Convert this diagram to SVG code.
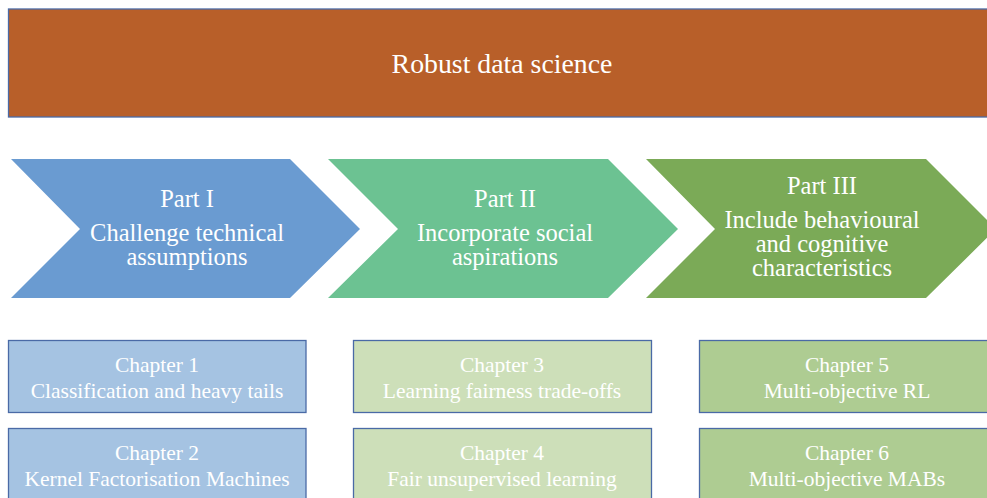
<svg xmlns="http://www.w3.org/2000/svg" width="987" height="498" viewBox="0 0 987 498">
  <style>
    text { font-family: "Liberation Serif", "Times New Roman", serif; fill: #ffffff; text-anchor: middle; }
    .title { font-size: 27.8px; }
    .part { font-size: 24.5px; }
    .chap { font-size: 21.5px; }
    .box { stroke: #4a6aa6; stroke-width: 1.3; }
    .blue { fill: #6a9bd1; }
    .teal { fill: #6cc292; }
    .olive { fill: #7baa57; }
    .lblue { fill: #a5c3e2; }
    .lgreen { fill: #cddfb9; }
    .mgreen { fill: #aecc92; }
  </style>

  <!-- header band -->
  <g id="header">
    <rect class="box" x="8.5" y="9" width="990" height="108" fill="#b85f29" stroke-width="2"/>
    <text class="title" x="502" y="73">Robust data science</text>
  </g>

  <!-- part chevrons -->
  <g id="part1">
    <polygon class="blue" points="11,159 290,159 360,229 290,298 11,298 80,229"/>
    <text class="part" x="187" y="207">Part I</text>
    <text class="part" x="187" y="241">Challenge technical</text>
    <text class="part" x="187" y="265">assumptions</text>
  </g>
  <g id="part2">
    <polygon class="teal" points="328,159 608,159 678,229 608,298 328,298 398,229"/>
    <text class="part" x="505" y="207">Part II</text>
    <text class="part" x="505" y="241">Incorporate social</text>
    <text class="part" x="505" y="265">aspirations</text>
  </g>
  <g id="part3">
    <polygon class="olive" points="646,159 926,159 996,229 926,298 646,298 715,229"/>
    <text class="part" x="822" y="194">Part III</text>
    <text class="part" x="822" y="228">Include behavioural</text>
    <text class="part" x="822" y="252">and cognitive</text>
    <text class="part" x="822" y="276">characteristics</text>
  </g>

  <!-- chapter boxes -->
  <g id="chapter1">
    <rect class="box lblue" x="8.5" y="340.5" width="297.5" height="72"/>
    <text class="chap" x="157" y="372">Chapter 1</text>
    <text class="chap" x="157" y="398">Classification and heavy tails</text>
  </g>
  <g id="chapter2">
    <rect class="box lblue" x="8.5" y="428.5" width="297.5" height="80"/>
    <text class="chap" x="157" y="460">Chapter 2</text>
    <text class="chap" x="157" y="486">Kernel Factorisation Machines</text>
  </g>
  <g id="chapter3">
    <rect class="box lgreen" x="353.5" y="340.5" width="298" height="72"/>
    <text class="chap" x="502" y="372">Chapter 3</text>
    <text class="chap" x="502" y="398">Learning fairness trade-offs</text>
  </g>
  <g id="chapter4">
    <rect class="box lgreen" x="353.5" y="428.5" width="298" height="80"/>
    <text class="chap" x="502" y="460">Chapter 4</text>
    <text class="chap" x="502" y="486">Fair unsupervised learning</text>
  </g>
  <g id="chapter5">
    <rect class="box mgreen" x="699.5" y="340.5" width="300" height="72"/>
    <text class="chap" x="847" y="372">Chapter 5</text>
    <text class="chap" x="847" y="398">Multi-objective RL</text>
  </g>
  <g id="chapter6">
    <rect class="box mgreen" x="699.5" y="428.5" width="300" height="80"/>
    <text class="chap" x="847" y="460">Chapter 6</text>
    <text class="chap" x="847" y="486">Multi-objective MABs</text>
  </g>

  <g id="connectors"/>
</svg>
